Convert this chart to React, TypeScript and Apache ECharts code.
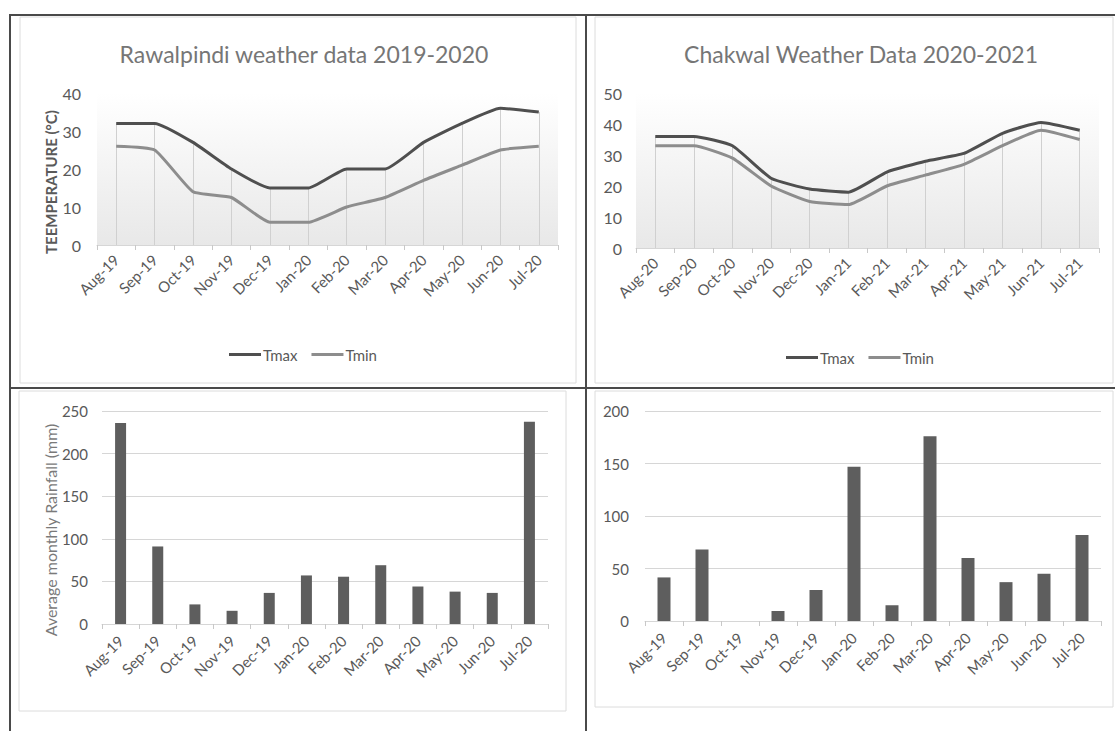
import React, { useEffect, useRef } from "react";
import * as echarts from "echarts";

const rwpMonths = ["Aug-19", "Sep-19", "Oct-19", "Nov-19", "Dec-19", "Jan-20", "Feb-20", "Mar-20", "Apr-20", "May-20", "Jun-20", "Jul-20"];
const chkMonths = ["Aug-20", "Sep-20", "Oct-20", "Nov-20", "Dec-20", "Jan-21", "Feb-21", "Mar-21", "Apr-21", "May-21", "Jun-21", "Jul-21"];
const rainMonths = ["Aug-19", "Sep-19", "Oct-19", "Nov-19", "Dec-19", "Jan-20", "Feb-20", "Mar-20", "Apr-20", "May-20", "Jun-20", "Jul-20"];

const rwpTmax = [32, 32, 27, 20, 15, 15, 20, 20, 27, 32, 36, 35];
const rwpTmin = [26, 25, 14, 12.5, 6, 6, 10, 12.5, 17, 21, 25, 26];
const chkTmax = [36, 36, 33, 22.5, 19, 18, 24.5, 28, 30.5, 37, 40.5, 38];
const chkTmin = [33, 33, 29, 20, 15, 14, 20, 23.5, 27, 33, 38, 35];
const rwpRain = [236, 91, 23, 15.5, 36.5, 57, 55.5, 69, 44, 38, 36.5, 237.5];
const chkRain = [41.5, 68, 0, 9.5, 29.5, 147, 15, 176, 60, 37, 45, 82];

const rwpTitle = "Rawalpindi weather data 2019-2020";
const chkTitle = "Chakwal Weather Data 2020-2021";
const tempAxisName = "TEEMPERATURE (°C)";
const rainAxisName = "Average monthly Rainfall (mm)";

const FONT = "Lato, 'Open Sans', sans-serif";
const LABEL = "#595959";
const TMAX = "#4f4f4f";
const TMIN = "#8d8d8d";
const BAR = "#5e5e5e";
const LIGHT = "#d6d6d6";
const BORDER = "#4a4a4a";

function dropLines(vals: number[]) {
  return vals.map((v, i) => [{ coord: [i, 0] }, { coord: [i, v] }]);
}

function gradientBg() {
  return new echarts.graphic.LinearGradient(0, 0, 0, 1, [
    { offset: 0, color: "#ffffff" },
    { offset: 1, color: "#e8e8e8" },
  ]);
}

export default function App() {
  const ref = useRef<HTMLDivElement>(null);
  useEffect(() => {
    if (!ref.current) return;
    const chart = echarts.init(ref.current, undefined, { renderer: "svg" });

    const xCommon = (data: string[], gridIndex: number, margin: number) => ({
      type: "category",
      gridIndex,
      data,
      boundaryGap: true,
      axisLine: { show: true, lineStyle: { color: LIGHT, width: 1 } },
      axisTick: { show: true, length: 5, lineStyle: { color: "#c8c8c8" } },
      axisLabel: { rotate: 45, margin, fontSize: 15, color: LABEL, fontFamily: FONT, interval: 0 },
      splitLine: { show: false },
    });
    const yCommon = (gridIndex: number, max: number, interval: number, split: boolean, margin: number, fontSize: number) => ({
      type: "value",
      gridIndex,
      min: 0,
      max,
      interval,
      axisLine: { show: false },
      axisTick: { show: false },
      axisLabel: { fontSize, color: LABEL, fontFamily: FONT, margin },
      splitLine: { show: split, lineStyle: { color: LIGHT, width: 1 } },
    });

    const lineSeries = (name: string, data: number[], color: string, idx: number, drops: boolean) => ({
      type: "line",
      name,
      xAxisIndex: idx,
      yAxisIndex: idx,
      data,
      smooth: 0.15,
      showSymbol: false,
      symbol: "none",
      lineStyle: { color, width: 3 },
      itemStyle: { color },
      z: 3,
      markLine: drops
        ? {
            silent: true,
            symbol: ["none", "none"],
            label: { show: false },
            lineStyle: { color: "#d0d0d0", width: 1, type: "solid" },
            data: dropLines(data),
            z: 1,
          }
        : undefined,
    });

    const legendBase = {
      data: ["Tmax", "Tmin"],
      icon: "rect",
      itemWidth: 32,
      itemHeight: 3,
      itemGap: 14,
      textStyle: { fontSize: 15, color: LABEL, fontFamily: FONT, padding: [0, 0, 0, -3] },
      selectedMode: false,
    };

    const option: any = {
      animation: false,
      textStyle: { fontFamily: FONT },
      title: [
        { text: rwpTitle, left: 299, top: 37, textAlign: "center", textStyle: { fontSize: 23, fontWeight: "normal", color: "#767676", fontFamily: FONT } },
        { text: chkTitle, left: 856, top: 37, textAlign: "center", textStyle: { fontSize: 23, fontWeight: "normal", color: "#767676", fontFamily: FONT } },
      ],
      legend: [
        { ...legendBase, left: 224, top: 342 },
        { ...legendBase, left: 781, top: 345 },
      ],
      grid: [
        { left: 97, top: 93, width: 461, height: 152, show: true, borderWidth: 0, backgroundColor: gradientBg() },
        { left: 636, top: 93, width: 463, height: 155, show: true, borderWidth: 0, backgroundColor: gradientBg() },
        { left: 102, top: 411, width: 446, height: 213 },
        { left: 645, top: 411, width: 456, height: 210 },
      ],
      xAxis: [xCommon(rwpMonths, 0, 12), xCommon(chkMonths, 1, 12), xCommon(rainMonths, 2, 14), xCommon(rainMonths, 3, 14)],
      yAxis: [
        yCommon(0, 40, 10, false, 16, 16),
        yCommon(1, 50, 10, false, 14, 16),
        yCommon(2, 250, 50, true, 14, 15),
        yCommon(3, 200, 50, true, 16, 15),
      ],
      series: [
        lineSeries("Tmax", rwpTmax, TMAX, 0, true),
        lineSeries("Tmin", rwpTmin, TMIN, 0, false),
        lineSeries("Tmax", chkTmax, TMAX, 1, true),
        lineSeries("Tmin", chkTmin, TMIN, 1, false),
        { type: "bar", name: "Rainfall Rawalpindi", xAxisIndex: 2, yAxisIndex: 2, data: rwpRain, barWidth: 11, itemStyle: { color: BAR } },
        { type: "bar", name: "Rainfall Chakwal", xAxisIndex: 3, yAxisIndex: 3, data: chkRain, barWidth: 13, itemStyle: { color: BAR } },
      ],
      graphic: [
        { type: "rect", shape: { x: 20, y: 17, width: 556, height: 366 }, style: { fill: "none", stroke: "#dcdcdc", lineWidth: 1 }, z: -1, silent: true },
        { type: "rect", shape: { x: 595, y: 17, width: 518, height: 366 }, style: { fill: "none", stroke: "#dcdcdc", lineWidth: 1 }, z: -1, silent: true },
        { type: "rect", shape: { x: 19, y: 391, width: 547, height: 320 }, style: { fill: "none", stroke: "#dcdcdc", lineWidth: 1 }, z: -1, silent: true },
        { type: "rect", shape: { x: 595, y: 391, width: 518, height: 316 }, style: { fill: "none", stroke: "#dcdcdc", lineWidth: 1 }, z: -1, silent: true },
        { type: "line", shape: { x1: 9, y1: 15, x2: 1115, y2: 15 }, style: { stroke: BORDER, lineWidth: 2 }, silent: true },
        { type: "line", shape: { x1: 10, y1: 15, x2: 10, y2: 731 }, style: { stroke: BORDER, lineWidth: 2 }, silent: true },
        { type: "line", shape: { x1: 586, y1: 15, x2: 586, y2: 731 }, style: { stroke: BORDER, lineWidth: 2 }, silent: true },
        { type: "line", shape: { x1: 9, y1: 388, x2: 1115, y2: 388 }, style: { stroke: BORDER, lineWidth: 2 }, silent: true },
        {
          type: "text",
          x: 51,
          y: 182,
          rotation: Math.PI / 2,
          style: { text: tempAxisName, fontSize: 15, fontWeight: "bold", fill: "#5a5a5a", fontFamily: FONT, textAlign: "center", textVerticalAlign: "middle" },
          silent: true,
        },
        {
          type: "text",
          x: 50,
          y: 530,
          rotation: Math.PI / 2,
          style: { text: rainAxisName, fontSize: 16, fill: "#7a7a7a", fontFamily: FONT, textAlign: "center", textVerticalAlign: "middle" },
          silent: true,
        },
      ],
    };

    chart.setOption(option);
    return () => chart.dispose();
  }, []);

  return (
    <div
      ref={ref}
      style={{ position: "fixed", left: 0, top: 0, width: 1115, height: 731, background: "#ffffff" }}
    />
  );
}
